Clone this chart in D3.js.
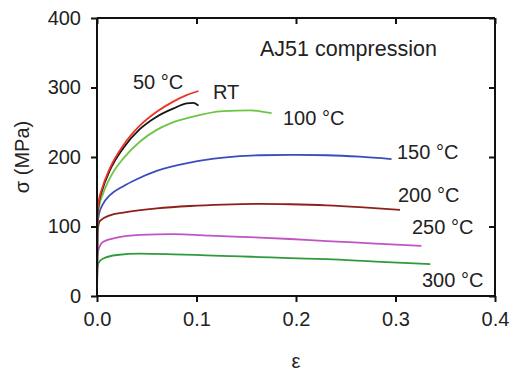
<!DOCTYPE html>
<html><head><meta charset="utf-8">
<script src="https://cdn.jsdelivr.net/npm/d3@7"></script>
<style>body{margin:0;background:#fff}svg{display:block}</style>
</head><body>
<svg id="c" width="512" height="373"></svg>
<script>
const xTicks = [0.0, 0.1, 0.2, 0.3, 0.4];
const yTicks = [0, 100, 200, 300, 400];
const seriesNames = ["RT", "50 °C", "100 °C", "150 °C", "200 °C", "250 °C", "300 °C"];
const strainRT   = [0, 0.0004, 0.002, 0.0047, 0.013, 0.0265, 0.043, 0.06, 0.077, 0.09, 0.097, 0.102];
const stressRT   = [0, 115, 135, 150, 181, 213, 240, 258, 270, 277, 278, 274];
const strain50   = [0, 0.0004, 0.002, 0.0047, 0.013, 0.0265, 0.043, 0.06, 0.077, 0.09, 0.102];
const stress50   = [0, 118, 138, 153, 184, 217, 245, 265, 280, 289, 295];
const strain100  = [0, 0.0004, 0.002, 0.0063, 0.015, 0.0265, 0.043, 0.06, 0.075, 0.0935, 0.127, 0.154, 0.1755];
const stress100  = [0, 110, 128, 148, 175, 198, 222, 239, 249, 257, 266, 267, 263];
const strain150  = [0, 0.0004, 0.002, 0.0063, 0.013, 0.0265, 0.04, 0.06, 0.0935, 0.127, 0.164, 0.194, 0.231, 0.264, 0.296];
const stress150  = [0, 100, 118, 133, 145, 158, 168, 180, 192, 199, 202.5, 203, 202.5, 200.5, 197];
const strain200  = [0, 0.0004, 0.003, 0.013, 0.0265, 0.06, 0.0935, 0.127, 0.164, 0.194, 0.231, 0.264, 0.3045];
const stress200  = [0, 92, 108, 116, 120, 126, 129.5, 131.5, 132.5, 132, 130.5, 128, 124];
const strain250  = [0, 0.0004, 0.0013, 0.0063, 0.02, 0.043, 0.077, 0.11, 0.144, 0.164, 0.194, 0.231, 0.28, 0.326];
const stress250  = [0, 56, 66, 78, 84, 88, 89, 87, 85, 84, 82, 79, 75.5, 72];
const strain300  = [0, 0.0004, 0.0013, 0.0063, 0.02, 0.043, 0.077, 0.11, 0.144, 0.164, 0.194, 0.231, 0.28, 0.335];
const stress300  = [0, 40, 47, 54, 59, 61, 60, 58.5, 57, 56, 54.5, 53, 49.5, 46];
const seriesColors = ["#151515", "#ee3326", "#6cc644", "#3a4dbb", "#8e1f1c", "#c054c4", "#2f9a3c"];

const strains = [strainRT, strain50, strain100, strain150, strain200, strain250, strain300];
const stresses = [stressRT, stress50, stress100, stress150, stress200, stress250, stress300];

const svg = d3.select("#c");
const L = 97, T = 18, R = 495, B = 296;
const x = d3.scaleLinear().domain([0, 0.4]).range([L, R]);
const y = d3.scaleLinear().domain([0, 400]).range([B, T]);
const font = "Liberation Sans, Arial, sans-serif";
const tc = "#222";

const line = d3.line().x(d => x(d[0])).y(d => y(d[1])).curve(d3.curveMonotoneX);
const order = [6,5,4,3,2,0,1];
order.forEach(i => {
  const pts = strains[i].map((s, k) => [s, stresses[i][k]]);
  svg.append("path").attr("d", line(pts)).attr("fill", "none")
    .attr("stroke", seriesColors[i]).attr("stroke-width", 1.8);
});

// axes
const ax = svg.append("g").attr("transform", `translate(0,${B})`)
  .call(d3.axisBottom(x).tickValues(xTicks).tickFormat(d3.format(".1f")).tickSize(6).tickPadding(10));
const ay = svg.append("g").attr("transform", `translate(${L},0)`)
  .call(d3.axisLeft(y).tickValues(yTicks).tickFormat(d3.format("d")).tickSize(6).tickPadding(10));
const at = svg.append("g").attr("transform", `translate(0,${T})`)
  .call(d3.axisBottom(x).tickValues(xTicks).tickFormat("").tickSize(6));
const ar = svg.append("g").attr("transform", `translate(${R},0)`)
  .call(d3.axisRight(y).tickValues(yTicks).tickFormat("").tickSize(-6));
[ax, ay, at, ar].forEach(g => {
  g.select(".domain").attr("stroke", "#111").attr("stroke-width", 2);
  g.selectAll(".tick line").attr("stroke", "#111").attr("stroke-width", 2);
  g.selectAll(".tick text").attr("font-family", font).attr("font-size", 20).attr("fill", tc);
});
ar.selectAll(".tick line").attr("x2", -6);
ax.select(".domain").attr("d", `M${L},0H${R}`);
at.select(".domain").attr("d", `M${L},0H${R}`);
ay.select(".domain").attr("d", `M0,${B}V${T}`);
ar.select(".domain").attr("d", `M0,${B}V${T}`);

// axis titles
svg.append("text").attr("x", 296).attr("y", 368).attr("text-anchor", "middle")
  .attr("font-family", font).attr("font-size", 20).attr("fill", tc).text("ε");
svg.append("text").attr("transform", "translate(29,157) rotate(-90)").attr("text-anchor", "middle")
  .attr("font-family", font).attr("font-size", 20).attr("fill", tc).text("σ (MPa)");

// annotations
svg.append("text").attr("x", 260).attr("y", 56)
  .attr("font-family", font).attr("font-size", 21.5).attr("fill", tc).text("AJ51 compression");
const ann = [
  ["50 °C", 133, 89],
  ["RT", 213, 99],
  ["100 °C", 283, 125],
  ["150 °C", 397, 159],
  ["200 °C", 398, 202],
  ["250 °C", 412, 234],
  ["300 °C", 422, 287]
];
ann.forEach(a => svg.append("text").attr("x", a[1]).attr("y", a[2])
  .attr("font-family", font).attr("font-size", 20).attr("fill", tc).text(a[0]));
</script>
</body></html>
